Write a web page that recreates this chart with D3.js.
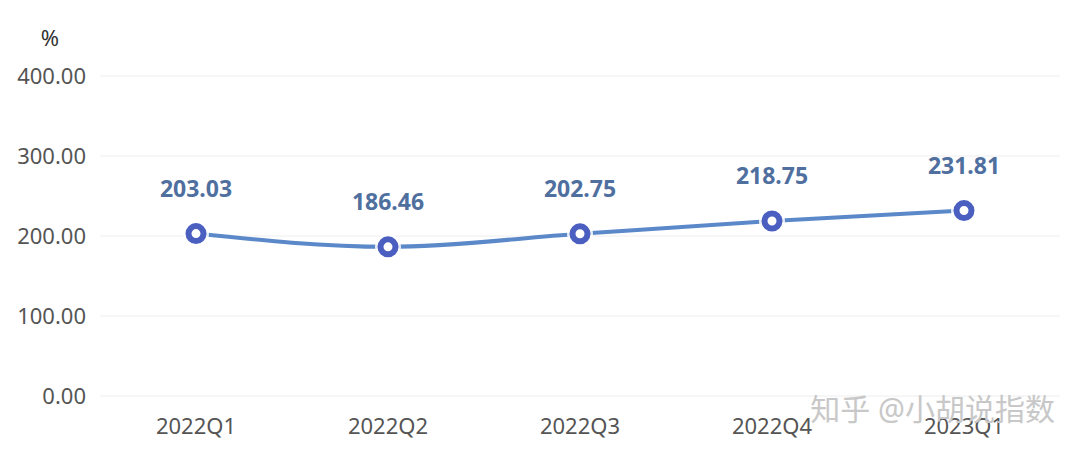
<!DOCTYPE html>
<html>
<head>
<meta charset="utf-8">
<script src="https://cdn.jsdelivr.net/npm/d3@7"></script>
<style>
  body { margin: 0; background: #fff; }
  text { font-family: "Noto Sans", "Noto Sans CJK SC", sans-serif; }
</style>
</head>
<body>
<div id="chart"></div>
<script>
// data
var quarters = ["2022Q1", "2022Q2", "2022Q3", "2022Q4", "2023Q1"];
var values = [203.03, 186.46, 202.75, 218.75, 231.81];
var yTicks = [0, 100, 200, 300, 400];

var w = 1080, h = 455;
var margin = {top: 76, right: 20, bottom: 59, left: 100};
var width = w - margin.left - margin.right,
    height = h - margin.top - margin.bottom;

var svg = d3.select("#chart").append("svg")
    .attr("width", w).attr("height", h);

var g = svg.append("g")
    .attr("transform", "translate(" + margin.left + "," + margin.top + ")");

var x = d3.scaleBand().domain(quarters).range([0, width]);
var y = d3.scaleLinear().domain([0, 400]).range([height, 0]);

// grid lines
g.selectAll(".grid").data(yTicks).enter().append("line")
    .attr("x1", 0).attr("x2", width)
    .attr("y1", function(d) { return y(d); })
    .attr("y2", function(d) { return y(d); })
    .attr("stroke", "#eeeeee").attr("stroke-width", 1);

// y labels
g.selectAll(".ylab").data(yTicks).enter().append("text")
    .attr("x", -14).attr("y", function(d) { return y(d); })
    .attr("dy", "0.35em").attr("text-anchor", "end")
    .attr("font-size", 22).attr("fill", "#555")
    .text(function(d) { return d.toFixed(2); });

svg.append("text").attr("x", 50).attr("y", 46)
    .attr("text-anchor", "middle").attr("font-size", 22).attr("fill", "#333")
    .text("%");

// x labels
g.selectAll(".xlab").data(quarters).enter().append("text")
    .attr("x", function(d) { return x(d) + x.bandwidth() / 2; })
    .attr("y", height + 38)
    .attr("text-anchor", "middle").attr("font-size", 22).attr("fill", "#555")
    .text(function(d) { return d; });

var cx = function(d, i) { return x(quarters[i]) + x.bandwidth() / 2; };

// line
var line = d3.line()
    .x(function(d, i) { return cx(d, i); })
    .y(function(d) { return y(d); })
    .curve(d3.curveMonotoneX);

g.append("path").datum(values)
    .attr("d", line).attr("fill", "none")
    .attr("stroke", "#5b88c8").attr("stroke-width", 4);

// markers
g.selectAll(".halo").data(values).enter().append("circle")
    .attr("cx", cx).attr("cy", function(d) { return y(d); })
    .attr("r", 13).attr("fill", "#fff").attr("opacity", 0.85);
g.selectAll(".dot").data(values).enter().append("circle")
    .attr("cx", cx).attr("cy", function(d) { return y(d); })
    .attr("r", 7.5).attr("fill", "#fff")
    .attr("stroke", "#4b5fc0").attr("stroke-width", 6);

// value labels
g.selectAll(".vlab").data(values).enter().append("text")
    .attr("x", cx).attr("y", function(d) { return y(d) - 37; })
    .attr("text-anchor", "middle").attr("font-size", 23).attr("font-weight", "bold")
    .attr("fill", "#4f6f9f")
    .text(function(d) { return d.toFixed(2); });

// watermark
svg.append("text").attr("x", 1055).attr("y", 420)
    .attr("text-anchor", "end").attr("font-size", 30).attr("fill", "#c8c8c8")
    .attr("font-family", "Noto Sans CJK SC")
    .text("知乎 @小胡说指数");
</script>
</body>
</html>
